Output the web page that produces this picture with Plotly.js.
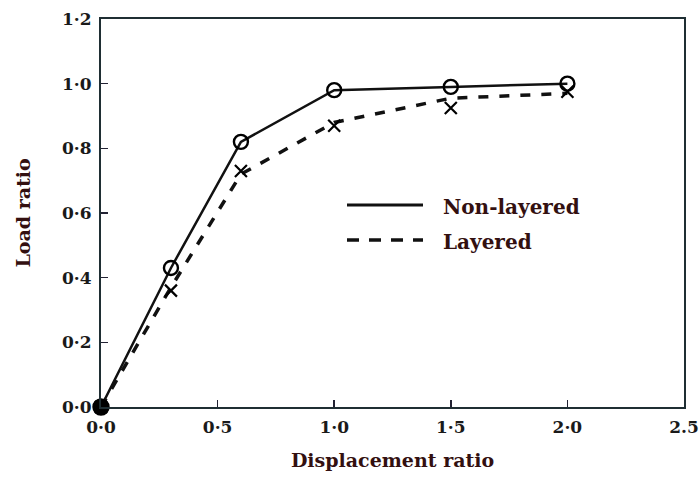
<!DOCTYPE html>
<html>
<head>
<meta charset="utf-8">
<script src="https://cdn.plot.ly/plotly-3.0.1.min.js"></script>
<style>html,body{margin:0;padding:0;background:#fff;}#chart{width:699px;height:477px;}</style>
</head>
<body>
<div id="chart"></div>
<script>
// Data
var displacement = [0, 0.3, 0.6, 1.0, 1.5, 2.0];
var nonLayeredLoad = [0, 0.43, 0.82, 0.98, 0.99, 1.0];
var layeredMarkerLoad = [0, 0.36, 0.73, 0.87, 0.925, 0.975];
var layeredLineLoad = [0, 0.37, 0.72, 0.88, 0.955, 0.97];
var xTickVals = [0, 0.5, 1.0, 1.5, 2.0, 2.5];
var xTickText = ['0·0', '0·5', '1·0', '1·5', '2·0', '2.5'];
var yTickVals = [0, 0.2, 0.4, 0.6, 0.8, 1.0, 1.2];
var yTickText = ['0·0', '0·2', '0·4', '0·6', '0·8', '1·0', '1·2'];
var seriesNames = ['Non-layered', 'Layered'];

var serif = 'DejaVu Serif, serif';
var titleColor = '#331010';

var traces = [
  {
    x: displacement, y: layeredLineLoad, mode: 'lines', name: seriesNames[1],
    line: {color: '#111', width: 3.5, dash: '10px,11px'}, showlegend: false
  },
  {
    x: displacement, y: layeredMarkerLoad, mode: 'markers', name: seriesNames[1] + ' points',
    marker: {symbol: 'x-thin-open', size: 12, color: '#000', opacity: 1, line: {width: 2.2, color: '#000'}},
    showlegend: false, cliponaxis: false
  },
  {
    x: displacement, y: nonLayeredLoad, mode: 'lines+markers', name: seriesNames[0],
    line: {color: '#111', width: 2.5},
    marker: {
      symbol: ['circle', 'circle-open', 'circle-open', 'circle-open', 'circle-open', 'circle-open'],
      size: [15, 14, 14, 14, 14, 14], color: '#000', opacity: 1, line: {width: 2.4, color: '#000'}
    },
    showlegend: false, cliponaxis: false
  }
];

var legendX0 = (347 - 101) / 583, legendX1 = (423 - 101) / 583, legendTextX = (441 - 101) / 583;
var yPix = function (p) { return (407 - p) / 388; };

var layout = {
  width: 699, height: 477,
  margin: {l: 101, r: 15, t: 19, b: 70},
  paper_bgcolor: '#fff', plot_bgcolor: '#fff',
  showlegend: false,
  xaxis: {
    range: [0, 2.5], tickvals: xTickVals, ticktext: xTickText,
    ticks: 'inside', ticklen: 7, tickwidth: 1.5, tickcolor: '#223',
    showline: true, linecolor: '#1f2e33', linewidth: 2, mirror: true,
    showgrid: false, zeroline: false, ticklabelstandoff: 4,
    tickfont: {family: serif, size: 17, color: '#1a1a1a', weight: 'bold'},
    title: {text: 'Displacement ratio', font: {family: serif, size: 19, color: titleColor, weight: 'bold'}, standoff: 17}
  },
  yaxis: {
    range: [0, 1.2], tickvals: yTickVals, ticktext: yTickText,
    ticks: 'inside', ticklen: 7, tickwidth: 1.5, tickcolor: '#223',
    showline: true, linecolor: '#1f2e33', linewidth: 2, mirror: true,
    showgrid: false, zeroline: false, ticklabelstandoff: 4,
    tickfont: {family: serif, size: 17, color: '#1a1a1a', weight: 'bold'},
    title: {text: 'Load ratio', font: {family: serif, size: 19, color: titleColor, weight: 'bold'}, standoff: 26}
  },
  shapes: [
    {type: 'line', xref: 'paper', yref: 'paper', x0: legendX0, x1: legendX1,
     y0: yPix(205), y1: yPix(205), line: {color: '#111', width: 3}},
    {type: 'line', xref: 'paper', yref: 'paper', x0: legendX0, x1: legendX1,
     y0: yPix(240), y1: yPix(240), line: {color: '#111', width: 3.5, dash: '12px,10px'}}
  ],
  annotations: [
    {xref: 'paper', yref: 'paper', x: legendTextX, y: yPix(207), xanchor: 'left', yanchor: 'middle',
     text: seriesNames[0], showarrow: false, font: {family: serif, size: 20, color: titleColor, weight: 'bold'}},
    {xref: 'paper', yref: 'paper', x: legendTextX, y: yPix(242), xanchor: 'left', yanchor: 'middle',
     text: seriesNames[1], showarrow: false, font: {family: serif, size: 20, color: titleColor, weight: 'bold'}}
  ]
};

Plotly.newPlot('chart', traces, layout, {displayModeBar: false, staticPlot: true});
</script>
</body>
</html>
